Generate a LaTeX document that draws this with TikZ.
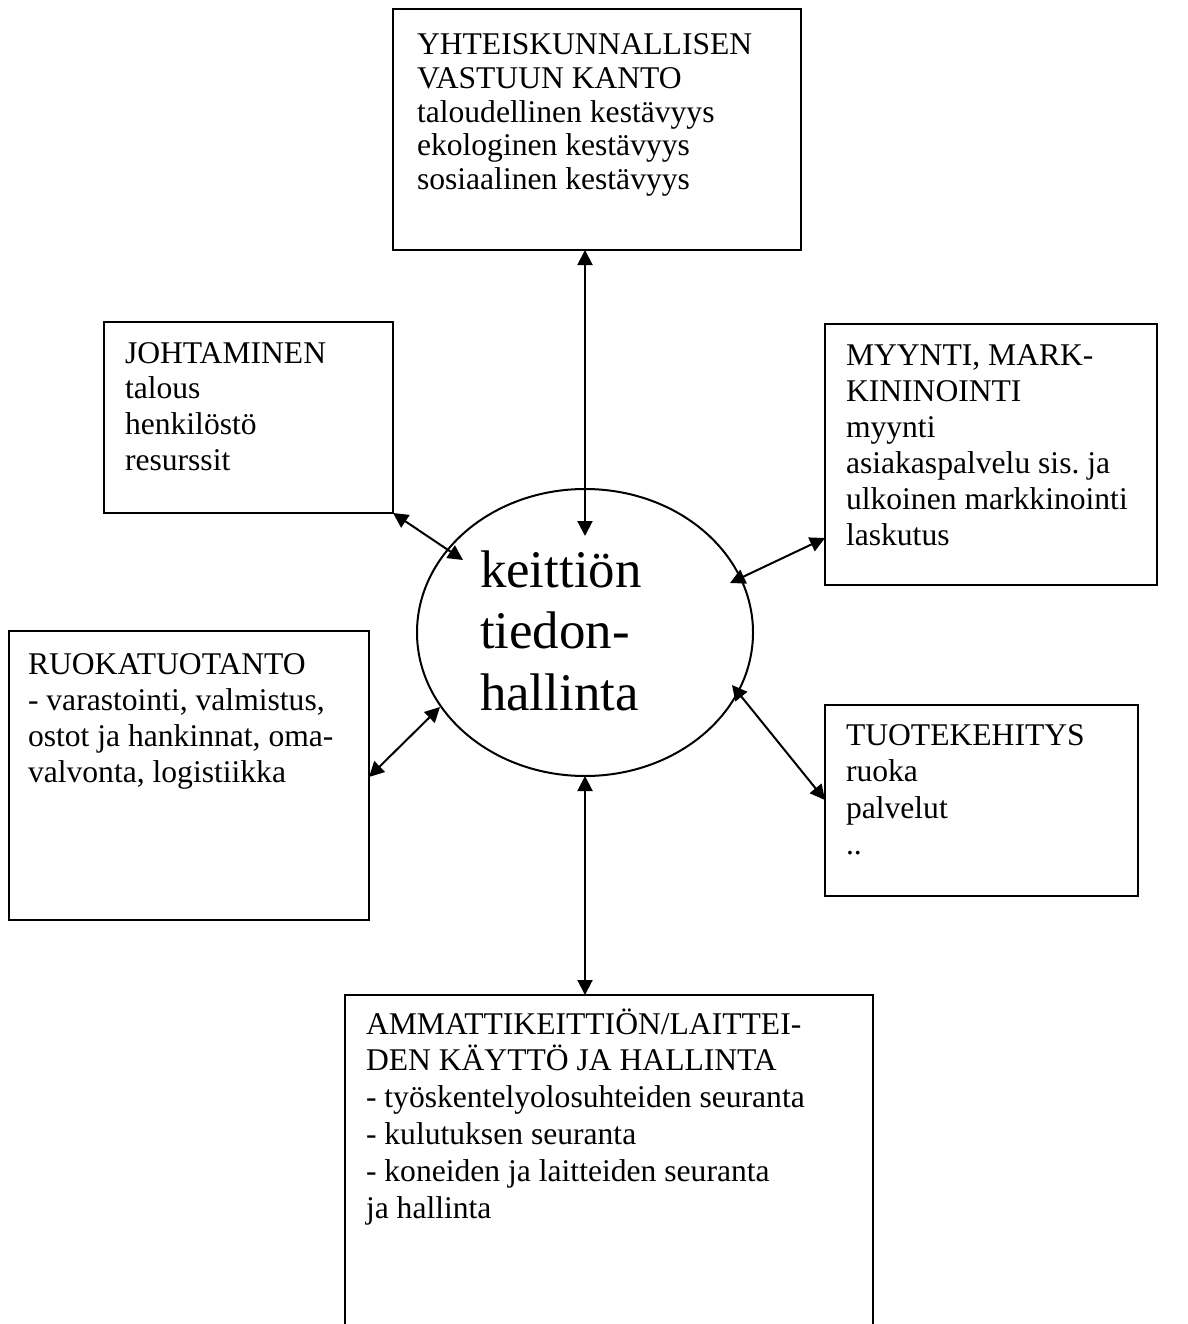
\documentclass[tikz,border=0pt]{standalone}
\usepackage{fontspec}
\setmainfont{Liberation Serif}
\usetikzlibrary{arrows.meta,shapes.geometric}
\tikzset{
  box/.style={draw, line width=2pt, rectangle, inner sep=0pt, outer sep=0pt, anchor=north west},
  lbl/.style={anchor=base west, inner sep=0pt, outer sep=0pt},
  link/.style={line width=2pt, >={Triangle[length=15pt,width=15pt]}, <->},
}
% text block: first argument is the line distance, second the lines
\newcommand\rivit[2]{\parbox[t]{620pt}{\raggedright\frenchspacing\fontsize{31.6pt}{#1}\selectfont #2}}

\begin{document}
\begin{tikzpicture}[x=1pt,y=-1pt]
\useasboundingbox (0,0) rectangle (1187,1324);
\fill[white] (0,0) rectangle (1187,1324);
\clip (0,0) rectangle (1187,1324);

% central ellipse
\node[draw, line width=2pt, ellipse, minimum width=336pt, minimum height=287pt, inner sep=0pt, outer sep=0pt] (ell) at (585,632.5) {};
\node[lbl] (ellT) at (480,587) {\parbox[t]{300pt}{\fontsize{52.9pt}{61.5pt}\selectfont keittiön\\tiedon-\\hallinta}};

% surrounding boxes
\node[box, minimum width=408pt, minimum height=241pt] (vastuu) at (393,9) {};
\node[lbl] (vastuuT) at (417,55) {\rivit{33.6pt}{YHTEISKUNNALLISEN\\VASTUUN KANTO\\taloudellinen kestävyys\\ekologinen kestävyys\\sosiaalinen kestävyys}};

\node[box, minimum width=289pt, minimum height=191pt] (johto) at (104,322) {};
\node[lbl] (johtoT) at (125,363) {\rivit{35.8pt}{JOHTAMINEN\\talous\\henkilöstö\\resurssit}};

\node[box, minimum width=332pt, minimum height=261pt] (myynti) at (825,324) {};
\node[lbl] (myyntiT) at (846,365) {\rivit{36pt}{MYYNTI, MARK-\\KININOINTI\\myynti\\asiakaspalvelu sis. ja\\ulkoinen markkinointi\\laskutus}};

\node[box, minimum width=360pt, minimum height=289pt] (ruoka) at (9,631) {};
\node[lbl] (ruokaT) at (28,674) {\rivit{36pt}{RUOKATUOTANTO\\- varastointi, valmistus,\\ostot ja hankinnat, oma-\\valvonta, logistiikka}};

\node[box, minimum width=313pt, minimum height=191pt] (tuote) at (825,705) {};
\node[lbl] (tuoteT) at (846,745) {\rivit{36.5pt}{TUOTEKEHITYS\\ruoka\\palvelut\\..}};

\node[box, minimum width=528pt, minimum height=345pt] (ammatti) at (345,995) {};
\node[lbl] (ammattiT) at (366,1034) {\rivit{36.8pt}{AMMATTIKEITTIÖN/LAITTEI-\\DEN KÄYTTÖ JA HALLINTA\\- työskentelyolosuhteiden seuranta\\- kulutuksen seuranta\\- koneiden ja laitteiden seuranta\\ja hallinta}};

% free ends of the connectors inside the ellipse
\coordinate (eVastuu) at (585,536);
\coordinate (eJohto) at (463,560);
\coordinate (eMyynti) at (730,583);
\coordinate (eTuote) at (732,685);
\coordinate (eRuoka) at (440,707);

% connectors
\draw[link] (vastuu.south -| ell.center) -- (eVastuu);
\draw[link] (johto.south east) -- (eJohto);
\draw[link] ([yshift=47pt]myynti.south west) -- (eMyynti);
\draw[link] ([yshift=-95pt]tuote.north west) -- (eTuote);
\draw[link] ([yshift=143pt]ruoka.south east) -- (eRuoka);
\draw[link] (ell.south) -- (ell.south |- ammatti.north);
\end{tikzpicture}
\end{document}
